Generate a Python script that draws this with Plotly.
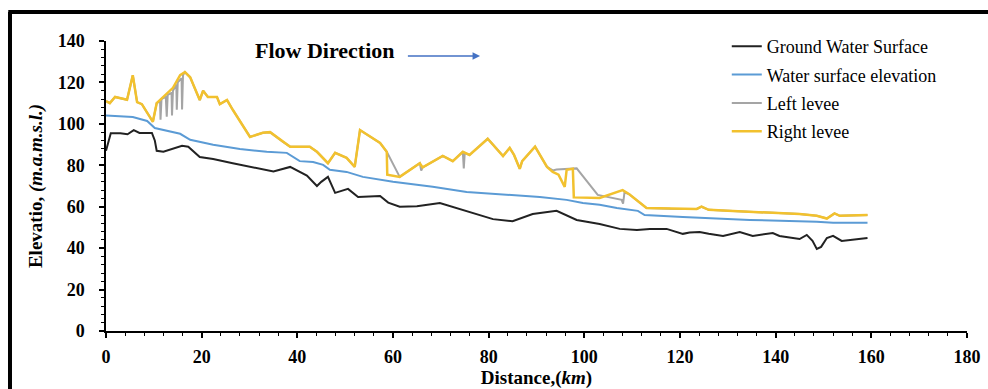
import plotly.graph_objects as go

# Longitudinal profile along the river reach (distance in km, elevation in m.a.m.s.l.)
ground_km = [0, 1, 3, 4.5, 5.8, 7, 9.6, 10.2, 10.6, 12, 15.9, 17.2, 19.6, 22.4, 26.5, 31, 33.6, 35,
             38.5, 40.5, 42, 44.1, 45, 46.4, 47.9, 50.6, 52.7, 57.3, 59, 61.4, 65, 69.8, 75.4, 80.9,
             85, 89.2, 94.2, 98.4, 103.2, 107.4, 111, 113.7, 117.2, 118.5, 120.6, 122, 124.1, 126,
             129, 132.5, 135.2, 139.4, 140.8, 145, 146.5, 147.7, 148.6, 149.5, 150.7, 152, 153.8, 159.2]
ground_el = [87, 95.5, 95.5, 95, 97, 95.6, 95.6, 92, 87, 86.5, 89.4, 89, 84, 83, 81, 79, 77.8, 77,
             79.2, 77, 75, 70, 72, 74.4, 66.7, 68.6, 64.7, 65.2, 62, 60, 60.2, 61.8, 58, 54,
             53, 56.5, 58, 53.6, 51.7, 49.3, 48.8, 49.3, 49.3, 48.3, 46.9, 47.5, 47.8, 46.9,
             45.9, 47.8, 45.9, 47.3, 45.9, 44.4, 46.4, 43.5, 39.6, 40.6, 44.9, 45.9, 43.5, 44.9]

water_km = [0, 5.6, 8.6, 10.2, 15.5, 17.6, 22.4, 28, 33.6, 37.8, 40.5, 43.3, 45.4, 46.8, 50.3, 53.7,
            60, 68.3, 75.4, 85, 90.7, 96.3, 99.7, 103.2, 106.8, 111.2, 112.6, 120.6, 134.6, 148.6,
            152, 159.2]
water_el = [104, 103.3, 101.4, 98, 95.2, 92.3, 89.9, 87.9, 86.5, 86, 82, 81.6, 80.2, 77.8, 76.8, 74.4,
            72, 69.6, 67.1, 65.7, 64.7, 63.3, 61.8, 60.9, 59.4, 58, 56, 55, 53.6, 52.7,
            52.2, 52.2]

left_km = [0, 0.8, 1.9, 4.4, 5.6, 6.5, 7.5, 9.8, 10.6, 11.3, 11.4, 11.6, 12.5, 12.7, 12.9, 13.7, 13.8,
           14.0, 14.7, 14.8, 15.0, 15.8, 15.9, 16.1, 16.5, 17.6, 19.6, 20.3, 21.3, 23.2, 23.8, 25.3,
           26.5, 30.1, 32.8, 34.3, 37, 38.5, 42.6, 44.1, 46.4, 47.9, 50.3, 52, 53.1, 57.3, 58.7,
           61.4, 65.6, 65.9, 66.2, 67, 70.4, 72.5, 74.6, 74.8, 75.0, 76, 79.8, 83, 84.4, 85.3, 86.5,
           87, 89.7, 92.2, 93.4, 94.2, 98.4, 102.8, 107.8, 108.1, 108.4, 109.4, 113, 118, 123.5,
           124.5, 126, 130, 134.6, 141.5, 145, 148.6, 150.7, 152.3, 153.4, 159.2]
left_el = [111, 110, 113, 111.6, 123.5, 110.5, 109.5, 101, 110, 111, 102, 112, 113, 103.4, 114, 115,
           104, 116, 119, 106.8, 120, 122, 107, 123.5, 125, 122.5, 111.5, 116, 113, 113, 109.5, 111.5,
           106.8, 93.7, 95.7, 96, 91.3, 89, 89, 86.5, 81, 86, 83.6, 79.2, 97, 90.8, 86.5,
           74.4, 81, 77.5, 79, 80, 84.5, 82, 86.5, 78.5, 86, 85, 92.8, 84.5, 88.4, 85, 78.3,
           82, 89, 79.2, 77.5, 78, 78.5, 65.7, 63.3, 61.5, 67, 66, 59.4, 59, 58.9,
           60, 58.5, 58, 57.5, 57, 56.5, 55.6, 54.3, 56.8, 55.6, 56]

right_km = [0, 0.8, 1.9, 4.4, 5.6, 6.5, 7.5, 9.8, 10.6, 12.5, 14, 15.5, 16.5, 17.6, 19.6, 20.3, 21.3,
            23.2, 23.8, 25.3, 26.5, 30.1, 32.8, 34.3, 37, 38.5, 42.6, 44.1, 46.4, 47.9, 50.3, 52, 53.1,
            57.3, 58.7, 58.8, 61.4, 65.6, 66.2, 67, 70.4, 72.5, 74.6, 76, 79.8, 83, 84.4, 85.3, 86.5,
            87, 89.7, 92.2, 93.4, 94.6, 95.9, 96.3, 97.6, 97.8, 103.2, 108, 109.4, 113, 118, 123.5,
            124.5, 126, 130, 134.6, 141.5, 145, 148.6, 150.7, 152.3, 153.4, 159.2]
right_el = [111, 110, 113, 111.6, 123.5, 110.5, 109.5, 101, 110, 114, 117.4, 123.5, 125, 122.5, 111.5,
            116, 113, 113, 109.5, 111.5, 106.8, 93.7, 95.7, 96, 91.3, 89, 89, 86.5, 81, 86, 83.6, 79.2,
            97, 90.8, 86.5, 75.4, 74.4, 81, 79, 80, 84.5, 82, 86.5, 85, 92.8, 84.5, 88.4, 85, 78.3,
            82, 89, 79.2, 76.8, 75.5, 69.6, 77.8, 78.3, 64.5, 64.2, 68, 66, 59.4, 59, 58.9,
            60, 58.5, 58, 57.5, 57, 56.5, 55.6, 54.3, 56.8, 55.6, 56]

x_ticks = [0, 20, 40, 60, 80, 100, 120, 140, 160, 180]
y_ticks = [0, 20, 40, 60, 80, 100, 120, 140]

SERIF = "Liberation Serif, Times New Roman, serif"

series = [
    ("Ground Water Surface", ground_km, ground_el, "#222222", 2),
    ("Water surface elevation", water_km, water_el, "#5B9BD5", 2),
    ("Left levee", left_km, left_el, "#A5A5A5", 2),
    ("Right levee", right_km, right_el, "#F2C12E", 2.5),
]

fig = go.Figure()
for name, xs, ys, color, w in series:
    fig.add_trace(go.Scatter(x=xs, y=ys, mode="lines", name=name, legendgroup=name,
                             line=dict(color=color, width=w)))

axis_common = dict(
    showgrid=False, zeroline=False, showline=True, linecolor="black", linewidth=1.5,
    ticks="outside", ticklen=5, tickwidth=1.5, tickcolor="black", automargin=False,
    tickfont=dict(family=SERIF, size=18, color="black", weight="bold"),
    minor=dict(ticks="outside", ticklen=3, tickwidth=1, tickcolor="black", dtick=4),
)

fig.update_xaxes(range=[0, 180], tickvals=x_ticks, ticktext=[str(v) for v in x_ticks],
                 title=dict(text="<b>Distance,(<i>km</i>)</b>", font=dict(family=SERIF, size=19, color="black"),
                            standoff=2),
                 ticklabelstandoff=4, **axis_common)
fig.update_yaxes(range=[0, 140], tickvals=y_ticks, ticktext=[str(v) for v in y_ticks],
                 title=dict(text="<b>Elevatio, <i>(m.a.m.s.l.)</i></b>", font=dict(family=SERIF, size=19, color="black"),
                            standoff=10),
                 ticklabelstandoff=11, **axis_common)

# Flow direction label and arrow
fig.add_annotation(x=45.8, y=135.4, xref="x", yref="y", text="<b>Flow Direction</b>", showarrow=False,
                   font=dict(family=SERIF, size=22, color="black"))
fig.add_annotation(x=78.2, y=132.8, ax=62.8, ay=132.8, xref="x", yref="y", axref="x", ayref="y",
                   text="", showarrow=True, arrowhead=2, arrowsize=1, arrowwidth=1.5, arrowcolor="#4472C4")

# Frame around the figure (left and top edges)
fig.add_shape(type="line", xref="paper", yref="paper", x0=-0.1115, x1=-0.1115, y0=1.1, y1=-0.3,
              line=dict(color="black", width=4))
fig.add_shape(type="line", xref="paper", yref="paper", x0=-0.1135, x1=1.05, y0=1.1, y1=1.1,
              line=dict(color="black", width=4))

fig.update_layout(
    width=988, height=389,
    margin=dict(l=106, r=21, t=41, b=58),
    paper_bgcolor="white", plot_bgcolor="white",
    showlegend=True,
    legend=dict(x=0.721, y=1.045, xanchor="left", yanchor="top", traceorder="grouped",
                tracegroupgap=2, bgcolor="rgba(0,0,0,0)", borderwidth=0,
                font=dict(family=SERIF, size=18, color="black"), itemwidth=30),
)

fig.write_html("out.html")
